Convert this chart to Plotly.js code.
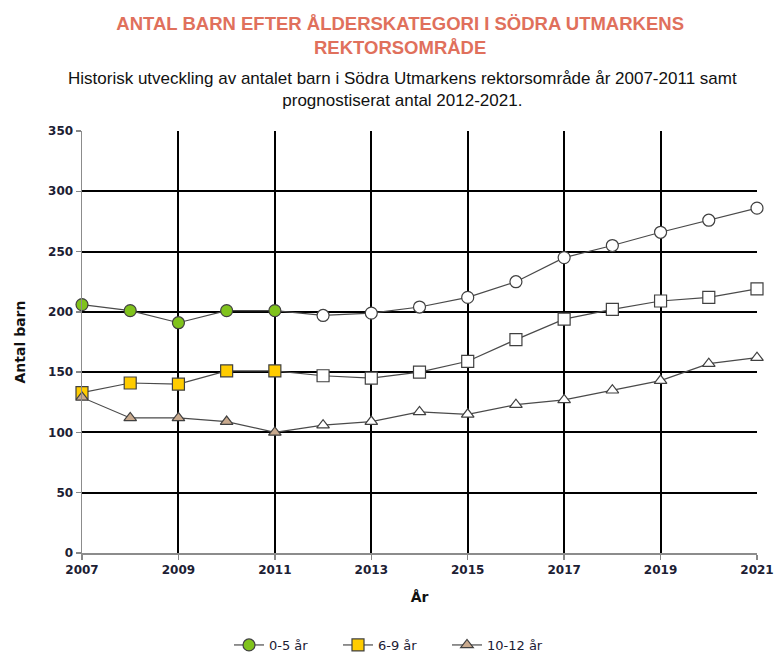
<!DOCTYPE html>
<html>
<head>
<meta charset="utf-8">
<script src="https://cdn.plot.ly/plotly-3.0.1.min.js"></script>
<style>html,body{margin:0;padding:0;background:#fff;}#chart{width:777px;height:659px;}</style>
</head>
<body>
<div id="chart"></div>
<script>
const years = [2007,2008,2009,2010,2011,2012,2013,2014,2015,2016,2017,2018,2019,2020,2021];
const age0to5 = [206,201,191,201,201,197,199,204,212,225,245,255,266,276,286];
const age6to9 = [133,141,140,151,151,147,145,150,159,177,194,202,209,212,219];
const age10to12 = [129,112,112,109,100,106,109,117,115,123,127,135,143,157,162];
const seriesNames = ['0-5 år','6-9 år','10-12 år'];
const lastHistoricYear = 2011;
const xTickVals = [2007,2009,2011,2013,2015,2017,2019,2021];
const yTickVals = [0,50,100,150,200,250,300,350];

const titleText = 'ANTAL BARN EFTER ÅLDERSKATEGORI I SÖDRA UTMARKENS<br>REKTORSOMRÅDE';
const subtitleText = 'Historisk utveckling av antalet barn i Södra Utmarkens rektorsområde år 2007-2011 samt<br>prognostiserat antal 2012-2021.';

function colorsFor(fill){
  return years.map(y => y <= lastHistoricYear ? fill : '#ffffff');
}

const specs = [
  {y: age0to5, symbol: 'circle', size: 12, fill: '#80c31c'},
  {y: age6to9, symbol: 'square', size: 12, fill: '#ffcc00'},
  {y: age10to12, symbol: 'triangle-up', size: 11, fill: '#c9aa8e'}
];

const traces = specs.map((s, i) => ({
  type: 'scatter',
  mode: 'lines+markers',
  name: seriesNames[i],
  x: years,
  y: s.y,
  line: {color: '#4a4a4a', width: 1.2},
  marker: {symbol: s.symbol, size: s.size, color: colorsFor(s.fill), line: {color: '#404040', width: 1.2}},
  cliponaxis: false
}));

const tickFont = {family: 'DejaVu Sans, Verdana, sans-serif', size: 12, color: '#1c2033', weight: 'bold'};

const layout = {
  width: 777, height: 659,
  margin: {l: 82, r: 20, t: 131, b: 106, autoexpand: false},
  paper_bgcolor: '#ffffff', plot_bgcolor: '#ffffff',
  showlegend: true,
  title: {
    text: titleText,
    font: {family: 'Liberation Sans, Arial, sans-serif', size: 18.5, color: '#e0705c', weight: 'bold'},
    x: 0.515, xanchor: 'center', xref: 'container',
    y: 0.955, yanchor: 'top', yref: 'container'
  },
  annotations: [{
    text: subtitleText,
    xref: 'paper', yref: 'paper',
    x: 0.475, xanchor: 'center',
    y: 1 + (131 - 67) / 422, yanchor: 'top',
    showarrow: false, align: 'center',
    font: {family: 'Liberation Sans, Arial, sans-serif', size: 17, color: '#111111'}
  }],
  xaxis: {
    range: [2007, 2021],
    automargin: false,
    tickvals: xTickVals,
    ticktext: xTickVals.map(String),
    ticks: 'outside', ticklen: 5, tickcolor: '#888888', tickwidth: 1.5,
    showline: true, linecolor: '#8c8c8c', linewidth: 1.5,
    showgrid: true, gridcolor: '#000000', gridwidth: 2,
    zeroline: false,
    tickfont: tickFont,
    title: {text: 'År', font: {family: 'DejaVu Sans, Verdana, sans-serif', size: 14, color: '#111111', weight: 'bold'}, standoff: 16}
  },
  yaxis: {
    range: [0, 350],
    automargin: false,
    tickvals: yTickVals,
    ticks: 'outside', ticklen: 5, tickcolor: '#888888', tickwidth: 1.5,
    showline: true, linecolor: '#8c8c8c', linewidth: 1.5,
    showgrid: true, gridcolor: '#000000', gridwidth: 2,
    zeroline: false,
    tickfont: tickFont,
    title: {text: 'Antal barn', font: {family: 'DejaVu Sans, Verdana, sans-serif', size: 14, color: '#111111', weight: 'bold'}, standoff: 19}
  },
  legend: {
    orientation: 'h',
    x: 0.46, xanchor: 'center',
    y: -0.218, yanchor: 'middle',
    font: {family: 'DejaVu Sans, Verdana, sans-serif', size: 13, color: '#1c2033'},
    entrywidth: 64,
    itemwidth: 30
  }
};

Plotly.newPlot('chart', traces, layout, {displayModeBar: false, staticPlot: true});
</script>
</body>
</html>
